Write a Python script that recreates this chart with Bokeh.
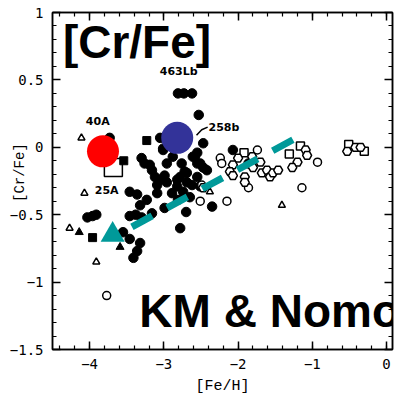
from bokeh.plotting import figure
from bokeh.models import Label, LinearAxis, SingleIntervalTicker, CustomJSTickFormatter
from bokeh.core.properties import value
from bokeh.embed import file_html
from bokeh.resources import INLINE

# ---------------- data ----------------
filled_x = [-2.81, -2.73, -2.62, -2.53, -3.01, -3.73, -3.05, -3.01, -3.30, -3.26,
            -3.19, -3.16, -3.12, -3.05, -3.09, -2.99, -2.96, -2.88, -2.76, -2.69,
            -2.55, -2.62, -2.51, -2.82, -2.61, -2.55, -2.47, -2.42, -2.72, -2.78,
            -2.96, -2.82, -2.69, -2.89, -2.74, -2.65, -2.81, -2.58, -2.51, -2.55,
            -3.46, -3.36, -3.23, -3.09, -3.32, -3.96, -4.03, -3.91, -3.46, -3.38,
            -3.30, -3.55, -3.46, -3.32, -3.36, -3.41, -3.16, -2.78, -1.86, -2.07,
            -2.35, -2.47, -2.99, -2.70]
filled_y = [0.40, 0.40, 0.40, 0.24, -0.01, 0.07, 0.07, -0.02, -0.08, -0.12,
            -0.13, -0.17, -0.22, -0.24, -0.28, -0.21, -0.12, -0.07, -0.12, -0.19,
            -0.04, -0.28, -0.29, -0.24, -0.07, -0.12, -0.15, -0.17, -0.18, -0.22,
            -0.26, -0.29, -0.26, -0.34, -0.33, -0.37, -0.39, -0.07, -0.12, -0.22,
            -0.33, -0.35, -0.39, -0.34, -0.43, -0.51, -0.52, -0.50, -0.51, -0.50,
            -0.52, -0.63, -0.68, -0.71, -0.77, -0.82, -0.49, -0.60, -0.12, -0.02,
            -0.44, 0.03, -0.45, -0.48]

fsq_x = [-3.23, -3.54, -3.96]
fsq_y = [0.05, -0.10, -0.67]

ftri_x = [-4.14, -3.59]
ftri_y = [-0.63, -0.74]

otri_x = [-4.11, -4.07, -4.27, -3.91, -2.38, -1.41]
otri_y = [0.07, -0.34, -0.60, -0.85, -0.33, -0.43]

ocirc_x = [-3.77, -0.93, -1.14, -2.24, -2.22, -1.74, -2.49, -1.86, -2.15, -2.51]
ocirc_y = [-1.10, -0.11, -0.30, -0.08, -0.12, -0.02, -0.28, -0.30, -0.40, -0.40]

osq_x = [-1.92, -1.31, -1.16, -0.51, -0.30]
osq_y = [-0.04, -0.05, 0.01, 0.02, -0.03]

opent_x = [-2.00, -2.07, -1.81, -1.70, -2.11, -2.07, -1.91, -1.91, -1.80, -1.68,
           -1.61, -1.57, -1.53, -1.46, -1.09, -1.07, -1.20, -1.27, -0.53, -0.42,
           -0.35, -2.47]
opent_y = [-0.08, -0.13, -0.07, -0.11, -0.18, -0.21, -0.22, -0.26, -0.15, -0.19,
           -0.17, -0.22, -0.19, -0.17, -0.02, -0.06, -0.11, -0.15, -0.03, 0.00,
           0.00, -0.30]

big_sq_x = [-3.68]
big_sq_y = [-0.15]

red_x = [-3.82]
red_y = [-0.03]
blue_x = [-2.82]
blue_y = [0.07]
teal_tri_x = [-3.69]
teal_tri_y = [-0.65]
teal_line_x = [-3.43, -1.18]
teal_line_y = [-0.59, 0.08]

star_names = ["40A", "463Lb", "25A", "258b"]
star_lx = [-3.89, -2.80, -3.77, -2.19]
star_ly = [0.19, 0.56, -0.32, 0.15]
lead_x = [-2.56, -2.49, -2.41]
lead_y = [0.09, 0.13, 0.15]

x_ticks_interval = 1
y_ticks_interval = 0.5

# ---------------- figure ----------------
p = figure(width=394, height=397, x_range=(-4.5, 0.08), y_range=(-1.5, 1.0),
           output_backend="svg", toolbar_location=None,
           min_border_left=52, min_border_right=2, min_border_top=12, min_border_bottom=45)
p.grid.visible = False
p.background_fill_color = "white"
p.border_fill_color = "white"
p.outline_line_color = "black"
p.outline_line_width = 1.5

lab_fmt = CustomJSTickFormatter(code="var v = Math.round(tick*10)/10; return (v < 0 ? '\\u2212' : '') + String(Math.abs(v));")
empty_fmt = CustomJSTickFormatter(code="return '';")


def style(ax, ticker, fmt, show):
    ax.ticker = ticker
    ax.formatter = fmt
    ax.axis_line_color = "black"
    ax.axis_line_width = 1.5
    ax.major_tick_in = 8
    ax.major_tick_out = 0
    ax.minor_tick_in = 4
    ax.minor_tick_out = 0
    ax.major_tick_line_width = 1.5
    ax.minor_tick_line_width = 1.2
    ax.major_tick_line_color = "black"
    ax.minor_tick_line_color = "black"
    ax.major_label_text_font = "DejaVu Sans Mono"
    ax.major_label_text_font_size = "14px"
    ax.major_label_text_color = "black"
    ax.major_label_standoff = 9 if show else 0
    ax.axis_label_text_color = "black"


xt = SingleIntervalTicker(interval=x_ticks_interval, num_minor_ticks=5)
yt = SingleIntervalTicker(interval=y_ticks_interval, num_minor_ticks=5)
style(p.xaxis[0], xt, lab_fmt, True)
style(p.yaxis[0], yt, lab_fmt, True)
p.xaxis[0].axis_label = "[Fe/H]"
p.xaxis[0].axis_label_text_font = "Liberation Mono"
p.xaxis[0].axis_label_text_font_style = "normal"
p.xaxis[0].axis_label_text_font_size = "15px"
p.xaxis[0].axis_label_standoff = 6
p.yaxis[0].axis_label = "\u00a0\u00a0[Cr/Fe]"
p.yaxis[0].axis_label_text_font = "Liberation Mono"
p.yaxis[0].axis_label_text_font_style = "normal"
p.yaxis[0].axis_label_text_font_size = "14px"
p.yaxis[0].axis_label_standoff = -21

top = LinearAxis()
style(top, SingleIntervalTicker(interval=x_ticks_interval, num_minor_ticks=5), empty_fmt, False)
p.add_layout(top, "above")
right = LinearAxis()
style(right, SingleIntervalTicker(interval=y_ticks_interval, num_minor_ticks=5), empty_fmt, False)
p.add_layout(right, "right")

# ---------------- marks ----------------
p.scatter(big_sq_x, big_sq_y, marker="square", size=18, fill_color="white", line_color="black", line_width=1.5)
p.scatter(filled_x, filled_y, marker="circle", size=9.5, fill_color="black", line_color="black")
p.scatter(fsq_x, fsq_y, marker="square", size=8, fill_color="black", line_color="black")
p.scatter(ftri_x, ftri_y, marker="triangle", size=8, fill_color="black", line_color="black")
p.scatter(otri_x, otri_y, marker="triangle", size=7, fill_color="white", line_color="black", line_width=1.5)
p.scatter(ocirc_x, ocirc_y, marker="circle", size=8, fill_color="white", line_color="black", line_width=1.5)
p.scatter(osq_x, osq_y, marker="square", size=8, fill_color="white", line_color="black", line_width=1.5)
p.scatter(opent_x, opent_y, marker="hex", size=9, fill_color="white", line_color="black", line_width=1.5)

p.line(lead_x, lead_y, line_color="black", line_width=1.5)

p.scatter(red_x, red_y, marker="circle", size=32, fill_color="#ff0000", line_color=None)
p.scatter(blue_x, blue_y, marker="circle", size=32, fill_color="#333399", line_color=None)
p.line(teal_line_x, teal_line_y, line_color="#009999", line_width=7, line_dash="23 17", line_cap="butt")
p.scatter(teal_tri_x, teal_tri_y, marker="triangle", size=24, fill_color="#009999", line_color=None)

p.text(star_lx, star_ly, text=star_names, text_font=value("DejaVu Sans"), text_font_style="bold",
       text_font_size="11px", text_align="center", text_baseline="middle", text_color="black")

# ---------------- texts ----------------
p.add_layout(Label(x=-4.36, y=0.78, text="[Cr/Fe]", text_font="Liberation Sans",
                   text_font_style="bold", text_font_size="46px", text_color="black",
                   text_align="left", text_baseline="middle"))
p.add_layout(Label(x=-3.33, y=-1.213, text="KM & Nomoto", text_font="Liberation Sans",
                   text_font_style="bold", text_font_size="46px", text_color="black",
                   text_align="left", text_baseline="middle"))

open("out.html", "w").write(file_html(p, INLINE))
